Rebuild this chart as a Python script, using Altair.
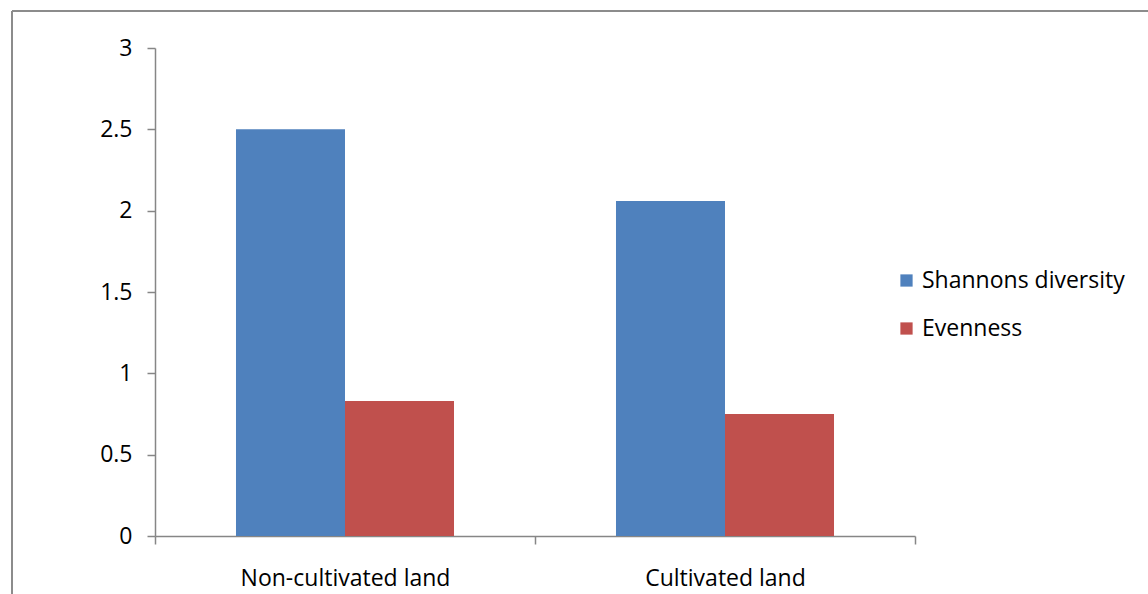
import altair as alt
import pandas as pd

categories = ["Non-cultivated land", "Non-cultivated land", "Cultivated land", "Cultivated land"]
series = ["Shannons diversity", "Evenness", "Shannons diversity", "Evenness"]
values = [2.5, 0.83, 2.06, 0.75]

cat_order = ["Non-cultivated land", "Cultivated land"]
series_order = ["Shannons diversity", "Evenness"]
colors = ["#4F81BD", "#C0504D"]

df = pd.DataFrame({"land": categories, "series": series, "value": values})

FONT = "Open Sans"
FS = 23
AXIS_COLOR = "#868686"

bars = alt.Chart(df).mark_bar().encode(
    x=alt.X("land:N", sort=cat_order, title=None,
            scale=alt.Scale(paddingInner=0, paddingOuter=0),
            axis=alt.Axis(labelAngle=0, labelFontSize=FS, labelFont=FONT, labelColor="black",
                          domainColor=AXIS_COLOR, tickColor=AXIS_COLOR, tickSize=8, labelLimit=400,
                          labelPadding=23, tickBand="extent", domainWidth=1.5, tickWidth=1.5)),
    xOffset=alt.XOffset("series:N", sort=series_order, scale=alt.Scale(paddingInner=0, paddingOuter=0.743)),
    y=alt.Y("value:Q", title=None,
            scale=alt.Scale(domain=[0, 3], nice=False),
            axis=alt.Axis(values=[0, 0.5, 1, 1.5, 2, 2.5, 3], format="~g", grid=False, labelFontSize=FS,
                          labelFont=FONT, labelColor="black", domainColor=AXIS_COLOR, tickColor=AXIS_COLOR,
                          tickSize=8, labelPadding=15, domainWidth=1.5, tickWidth=1.5)),
    color=alt.Color("series:N", sort=series_order,
                    scale=alt.Scale(domain=series_order, range=colors),
                    legend=alt.Legend(title=None, orient="none", legendX=740, legendY=221,
                                      labelFontSize=FS, labelFont=FONT, labelColor="black", labelLimit=400,
                                      symbolType="square", symbolSize=150, rowPadding=24,
                                      symbolStrokeWidth=0, labelOffset=4)),
)

border_left = alt.Chart(df).mark_rule(color="#8c8c8c", strokeWidth=2).encode(
    x=alt.value(-143), y=alt.value(-37), y2=alt.value(600)
)
border_top = alt.Chart(df).mark_rule(color="#8c8c8c", strokeWidth=2).encode(
    y=alt.value(-37), x=alt.value(-143), x2=alt.value(1100)
)

chart = alt.layer(bars, border_left, border_top).properties(
    width=760, height=488,
    background="white",
    autosize=alt.AutoSizeParams(type="none"),
    padding={"left": 155, "top": 48, "right": 233, "bottom": 58},
).configure_view(stroke=None)

chart.save("out.html", embed_options={"renderer": "svg", "actions": False})
